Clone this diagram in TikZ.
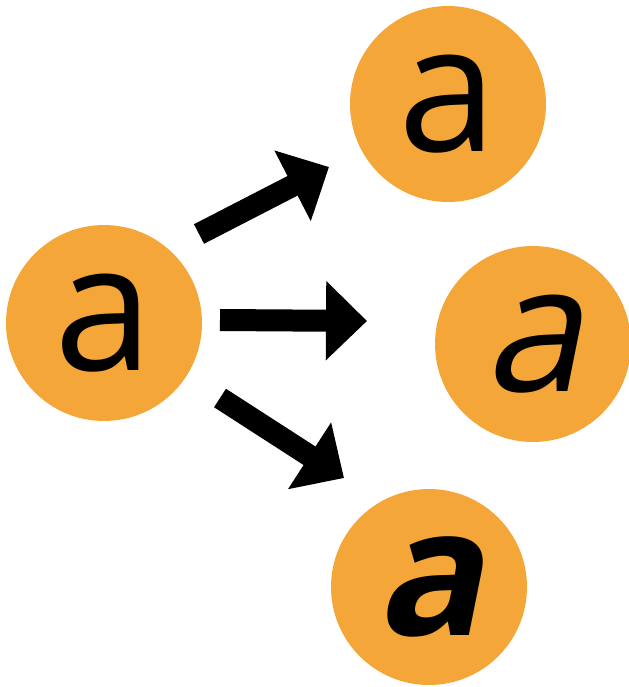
\documentclass[tikz,border=0pt]{standalone}
\usepackage{fontspec}
\newfontfamily\letterfont{Open Sans}
\newfontfamily\slantfont[FakeSlant=0.2]{Open Sans}
\usetikzlibrary{positioning,shapes,arrows.meta,calc}
\definecolor{dotorange}{HTML}{F4A638}

\begin{document}
\begin{tikzpicture}[x=0.02cm, y=-0.02cm,
    letter/.style={circle, fill=dotorange, minimum size=3.92cm, inner sep=0pt,
        font=\letterfont\fontsize{101}{101}\selectfont},
    arrow/.style={line width=0.44cm, -{Triangle[length=0.82cm, width=1.54cm]}}]

\useasboundingbox (0,0) rectangle (629,687);

\node [letter] (src) at (104,323) {a};

\node [letter] (upright) at (448,104) {a};

\node [letter] (italic) at (533,344) {\slantfont a};

\node [letter] (bold) at (429,587) {\slantfont\bfseries a};

\coordinate (up tail) at (199,234);
\coordinate (up tip) at (329,167);
\coordinate (mid tail) at (220,320);
\coordinate (mid tip) at (367,321);
\coordinate (down tail) at (220,398);
\coordinate (down tip) at (344,478);

\draw [arrow] (up tail) -- (up tip);
\draw [arrow] (mid tail) -- (mid tip);
\draw [arrow] (down tail) -- (down tip);

\end{tikzpicture}
\end{document}
